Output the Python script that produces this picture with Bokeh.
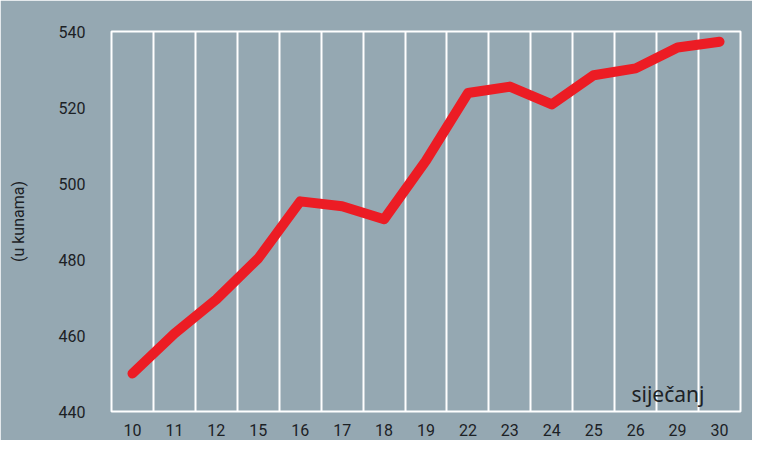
from bokeh.plotting import figure
from bokeh.models import FixedTicker, Range1d, Label
from bokeh.embed import file_html
from bokeh.resources import INLINE

days = ["10", "11", "12", "15", "16", "17", "18", "19", "22", "23", "24", "25", "26", "29", "30"]
prices = [450, 460.5, 469.5, 480.3, 495.3, 494, 490.6, 506, 523.8, 525.5, 520.8, 528.5, 530.3, 535.8, 537.3]
y_ticks = [440, 460, 480, 500, 520, 540]
month_label = "siječanj"
y_title = "(u kunama)"

BG = "#95a8b2"
TXT = "#1c2125"
FONT = "Roboto"

xs = list(range(len(days)))

p = figure(width=752, height=440, output_backend="svg", toolbar_location=None,
           x_range=Range1d(-0.5, len(days) - 0.5), y_range=Range1d(440, 540),
           min_border_left=111, min_border_right=12, min_border_top=31, min_border_bottom=29)
p.background_fill_color = BG
p.border_fill_color = BG
p.outline_line_color = "white"
p.outline_line_width = 2

p.line(xs, prices, line_color="#ec1c24", line_width=10, line_cap="round", line_join="round")

p.xaxis.ticker = FixedTicker(ticks=xs)
p.xaxis.major_label_overrides = {i: d for i, d in enumerate(days)}
p.yaxis.ticker = FixedTicker(ticks=y_ticks)
for ax in (p.xaxis[0], p.yaxis[0]):
    ax.axis_line_color = None
    ax.major_tick_line_color = None
    ax.minor_tick_line_color = None
    ax.major_label_text_font = FONT
    ax.major_label_text_font_size = "16px"
    ax.major_label_text_color = TXT
p.xaxis.major_label_standoff = 6
p.yaxis.major_label_standoff = 20
p.yaxis.axis_label = y_title
p.yaxis.axis_label_text_font = FONT
p.yaxis.axis_label_text_font_size = "16px"
p.yaxis.axis_label_text_font_style = "normal"
p.yaxis.axis_label_text_color = TXT
p.yaxis.axis_label_standoff = 28

p.xgrid.ticker = FixedTicker(ticks=[i + 0.5 for i in xs[:-1]])
p.xgrid.grid_line_color = "white"
p.xgrid.grid_line_width = 2
p.ygrid.grid_line_color = None

p.add_layout(Label(x=11.9, y=444.6, text=month_label, text_font="Noto Sans",
                   text_font_size="21px", text_color=TXT, text_baseline="alphabetic"))

open("out.html", "w").write(file_html(p, INLINE))
